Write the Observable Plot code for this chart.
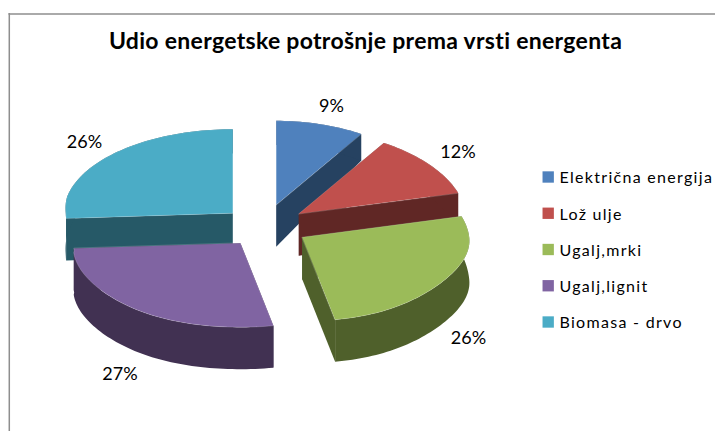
<!DOCTYPE html>
<html><head><meta charset="utf-8">
<script src="https://cdn.jsdelivr.net/npm/d3@7"></script>
<script src="https://cdn.jsdelivr.net/npm/@observablehq/plot@0.6"></script>
<style>
html,body{margin:0;padding:0;background:#fff;overflow:hidden}
svg{display:block}
.legend-text text{letter-spacing:1.3px}
.chart-title text{letter-spacing:0.3px}
</style></head><body>
<div id="chart"></div>
<script>
const chartTitle = "Udio energetske potrošnje prema vrsti energenta";
const categories = ["Električna energija","Lož ulje","Ugalj,mrki","Ugalj,lignit","Biomasa - drvo"];
const shares = [9,12,26,27,26];
const topColors = ["#4f81bd","#c0504d","#9bbb59","#8064a2","#4bacc6"];
const wallColors = ["#264261","#602725","#4f602b","#413152","#265967"];
// exploded apex of each slice
const apexX = [275.7,298.3,301.7,240,232.3];
const apexY = [204.3,213.3,236.7,242.7,212.7];
const labelX = [331,457.5,468,119.5,84];
const labelY = [106,152,338,374,141.5];
const drawOrder = [4,0,1,3,2];
const RX = 167, RY = 84, PERSP = 0.06, DEPTH = 42, BACK_SHRINK = 17.8;
const rad = d => d*Math.PI/180;
const total = d3.sum(shares);
let acc = 0;
const slices = shares.map((v,i)=>{const a0=acc/total*360; acc+=v; return {i,a0,a1:acc/total*360};});
function widen(c,s){
  if(s<0&&c>=0) return 1+0.012*Math.min(1,c/0.2);
  if(s<0&&c>-0.1) return 1;
  const base=1-PERSP*c;
  if(c>=0) return base;
  const s2=Math.pow(2*s*c,2);
  return base*(1-(s>0?0.05:0.03)*s2);
}
function pt(i,a,r,drop){
  const t=rad(a),c=Math.cos(t),s=Math.sin(t);
  return {x:apexX[i]+r*RX*widen(c,s)*s,
          y:apexY[i]-r*RY*c+(drop?DEPTH-BACK_SHRINK*r*Math.max(0,c):0)};
}
function arc(i,a0,a1,drop){
  const n=Math.max(2,Math.ceil(Math.abs(a1-a0)/1.5)),o=[];
  for(let k=0;k<=n;k++)o.push(pt(i,a0+(a1-a0)*k/n,1,drop));
  return o;
}
const sliceMarks=drawOrder.flatMap(idx=>{
  const {i,a0,a1}=slices[idx];
  const wall=(a,z)=>[pt(i,a,0,false),pt(i,a,1,false),pt(i,a,1,true),pt(i,a,0,true)].map(p=>({...p,z}));
  const outer=[...arc(i,a0,a1,false),...arc(i,a1,a0,true)].map(p=>({...p,z:"o"}));
  const top=[pt(i,a0,0,false),...arc(i,a0,a1,false)];
  return [
    Plot.line([...wall(a0,"a"),...wall(a1,"b"),...outer],{x:"x",y:"y",z:"z",fill:wallColors[idx],stroke:null,curve:"linear"}),
    Plot.line(top,{x:"x",y:"y",fill:topColors[idx],stroke:"#fff",strokeOpacity:0.25,strokeWidth:0.7,curve:"linear-closed"})
  ];
});
const legendRows=categories.map((name,i)=>({name,color:topColors[i],row:i}));
const legendX=547.7, legendTextX=559, legendTop=176.5, legendStep=36.25;
const plot=Plot.plot({
  width:715,height:431,margin:0,
  x:{domain:[0,715],range:[0,715],axis:null},
  y:{domain:[0,431],range:[0,431],axis:null},
  style:{background:"#fff",fontFamily:"Lato"},
  marks:[
    Plot.ruleY([13.5],{x1:8.5,x2:715,stroke:"#8e8e8e",strokeWidth:1.5}),
    Plot.ruleX([8.8],{y1:13,y2:431,stroke:"#8e8e8e",strokeWidth:1.5}),
    Plot.text([chartTitle],{x:()=>365,y:()=>41,text:d=>d,fontSize:23,fontWeight:700,fill:"#000",fontFamily:"Lato",className:"chart-title"}),
    ...sliceMarks,
    Plot.text(shares.map((v,i)=>({v,i})),{x:d=>labelX[d.i],y:d=>labelY[d.i],text:d=>d.v+"%",fontSize:18,fill:"#000",fontFamily:"Lato"}),
    Plot.dot(legendRows,{x:()=>legendX,y:d=>legendTop+d.row*legendStep,symbol:"square",r:6.4,fill:"color",stroke:null}),
    Plot.text(legendRows,{x:()=>legendTextX,y:d=>legendTop+d.row*legendStep+1.3,text:"name",textAnchor:"start",fontSize:16,fill:"#000",fontFamily:"Lato",className:"legend-text"})
  ]
});
document.getElementById("chart").appendChild(plot);
</script></body></html>
